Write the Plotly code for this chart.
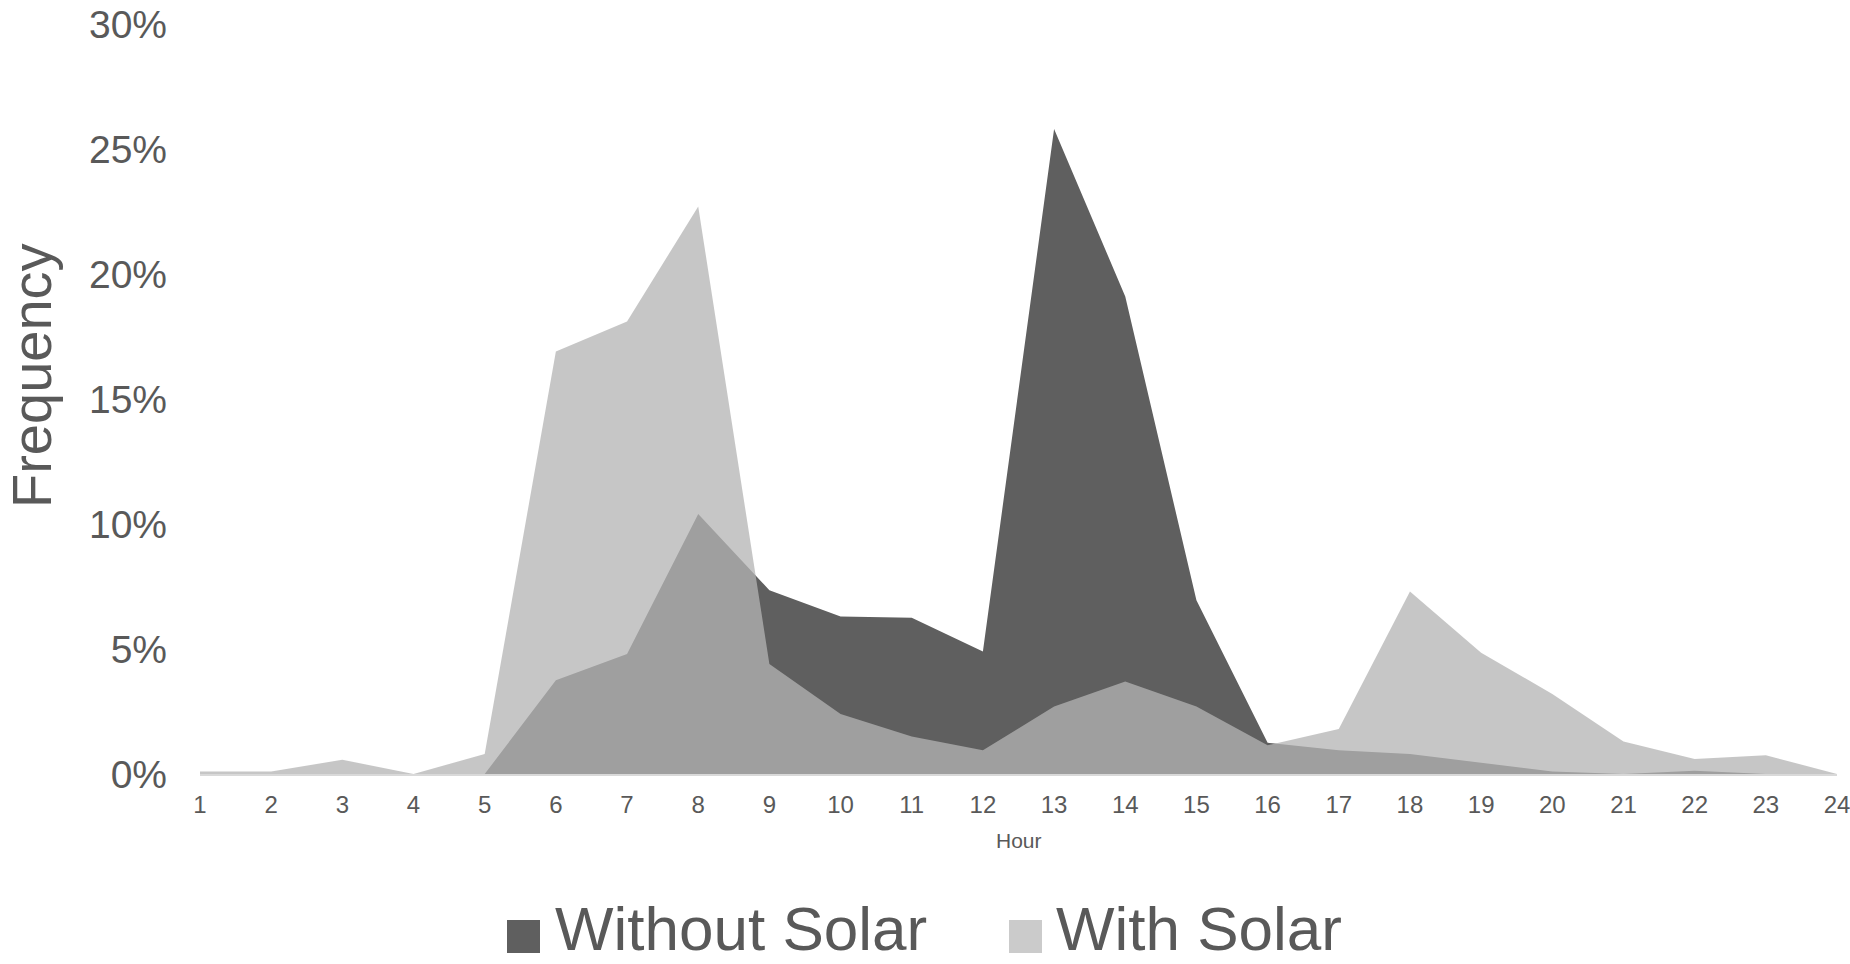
import plotly.graph_objects as go

# Hour-of-day frequency distribution (percent)
hours = list(range(1, 25))
without_solar = [0, 0, 0, 0, 0, 3.75, 4.8, 10.4, 7.35, 6.3, 6.25, 4.9,
                 25.8, 19.1, 6.95, 1.25, 0.95, 0.8, 0.45, 0.1, 0, 0.13, 0, 0]
with_solar = [0.1, 0.1, 0.57, 0, 0.8, 16.9, 18.1, 22.7, 4.4, 2.4, 1.5, 0.95,
              2.7, 3.7, 2.7, 1.15, 1.8, 7.3, 4.85, 3.2, 1.3, 0.6, 0.75, 0]
series_names = ["Without Solar", "With Solar"]
y_ticks = [0, 5, 10, 15, 20, 25, 30]

W, H = 1850, 964
L, R, T, B = 200, 13, 24, 190
PW, PH = W - L - R, H - T - B
TEXT = "#595959"
FONT = "Liberation Sans, Arial, sans-serif"
DARK = "#5f5f5f"
LIGHT = "rgba(180,180,180,0.756)"


def px(x):
    return (x - L) / PW


def py(y):
    return (H - B - y) / PH


fig = go.Figure()
fig.add_trace(go.Scatter(
    x=hours, y=without_solar, name=series_names[0], mode="lines",
    fill="tozeroy", fillcolor=DARK, line=dict(width=0, color=DARK),
    showlegend=False, hoverinfo="skip"))
fig.add_trace(go.Scatter(
    x=hours, y=with_solar, name=series_names[1], mode="lines",
    fill="tozeroy", fillcolor=LIGHT, line=dict(width=0, color=LIGHT),
    showlegend=False, hoverinfo="skip"))

# legend drawn as swatches + labels below the plot
swatches = [(507, 540, DARK), (1009, 1042, "#cbcbcb")]
text_x = [554, 1055]
shapes = []
annotations = []
for (x0, x1, col), tx, name in zip(swatches, text_x, series_names):
    shapes.append(dict(type="rect", xref="paper", yref="paper",
                       x0=px(x0), x1=px(x1), y0=py(953), y1=py(920),
                       fillcolor=col, line=dict(width=0)))
    annotations.append(dict(xref="paper", yref="paper", x=px(tx), y=py(928),
                            xanchor="left", yanchor="middle", showarrow=False,
                            borderpad=0,
                            text=name, font=dict(family=FONT, size=62, color=TEXT)))

annotations.append(dict(xref="paper", yref="paper", x=0.5, y=py(840),
                        xanchor="center", yanchor="middle", showarrow=False,
                        text="Hour", font=dict(family=FONT, size=21, color=TEXT)))
annotations.append(dict(xref="paper", yref="paper", x=px(31), y=py(376),
                        xanchor="center", yanchor="middle", showarrow=False,
                        textangle=-90, text="Frequency",
                        font=dict(family=FONT, size=56, color=TEXT)))

fig.update_layout(
    width=W, height=H,
    margin=dict(l=L, r=R, t=T, b=B, autoexpand=False),
    paper_bgcolor="white", plot_bgcolor="white",
    shapes=shapes, annotations=annotations,
    xaxis=dict(range=[1, 24], tickvals=hours, ticktext=[str(h) for h in hours],
               showgrid=False, zeroline=False, showline=True,
               linecolor="#d9d9d9", linewidth=2, ticks="",
               tickfont=dict(family=FONT, size=24, color=TEXT),
               ticklabelstandoff=8, ticklabeloverflow="allow",
               automargin=False),
    yaxis=dict(range=[0, 30], tickvals=y_ticks,
               ticktext=[f"{v}%" for v in y_ticks],
               showgrid=False, zeroline=False, showline=False, ticks="",
               tickfont=dict(family=FONT, size=39, color=TEXT),
               ticklabelstandoff=32, automargin=False),
)

fig.write_html("out.html")
